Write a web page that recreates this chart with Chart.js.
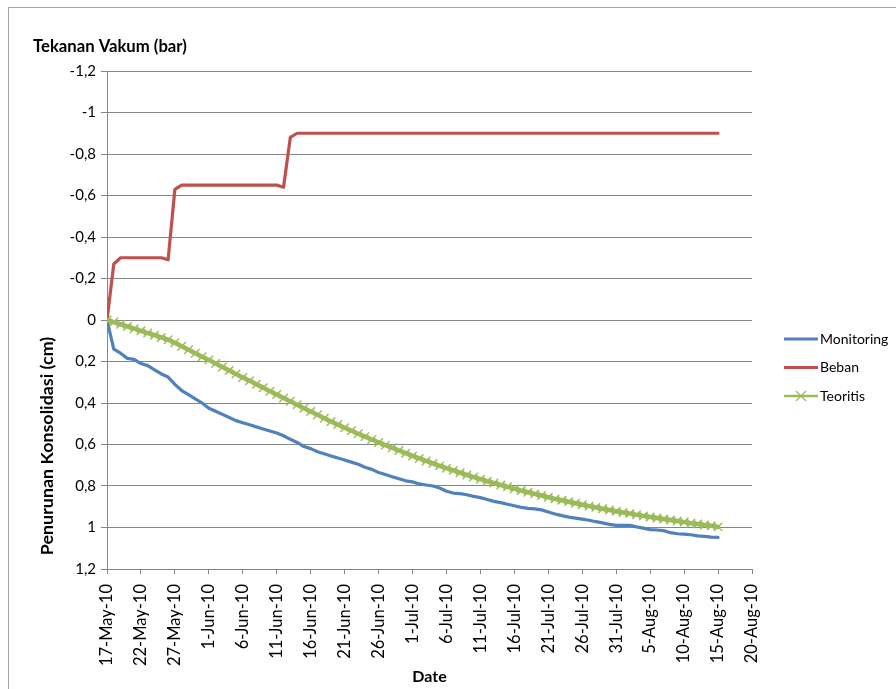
<!DOCTYPE html>
<html>
<head>
<meta charset="utf-8">
<title>Tekanan Vakum / Penurunan Konsolidasi</title>
<script src="https://cdn.jsdelivr.net/npm/chart.js@4.4.0/dist/chart.umd.min.js"></script>
<style>
  html, body { margin: 0; padding: 0; background: #fff; }
  #wrap { position: relative; width: 896px; height: 689px; overflow: hidden; }
  #frame { position: absolute; left: 8px; top: 7px; width: 950px; height: 750px;
           border-left: 1px solid #a6a6a6; border-top: 1px solid #a6a6a6; }
  #chart { position: absolute; left: 0; top: 0; }
</style>
</head>
<body>
<div id="wrap">
  <div id="frame"></div>
  <canvas id="chart" width="896" height="689"></canvas>
</div>
<script>
// --- Data (one value per day from 17-May-10) ---
const xTickLabels = [
  '17-May-10', '22-May-10', '27-May-10', '1-Jun-10', '6-Jun-10', '11-Jun-10',
  '16-Jun-10', '21-Jun-10', '26-Jun-10', '1-Jul-10', '6-Jul-10', '11-Jul-10',
  '16-Jul-10', '21-Jul-10', '26-Jul-10', '31-Jul-10', '5-Aug-10', '10-Aug-10',
  '15-Aug-10', '20-Aug-10'
];
// y labels from top (-1,2) to bottom (1,2)
const yTickLabels = ['-1,2', '-1', '-0,8', '-0,6', '-0,4', '-0,2', '0',
                     '0,2', '0,4', '0,6', '0,8', '1', '1,2'];

// day offsets since 17-May-10 (daily readings up to 15-Aug-10)
const days = Array.from({ length: 91 }, (_, i) => i);

const monitoring = [
  0.000, 0.140, 0.160, 0.185, 0.190, 0.210, 0.220, 0.240, 0.260, 0.275,
  0.310, 0.340, 0.360, 0.380, 0.400, 0.425, 0.440, 0.455, 0.470, 0.485,
  0.495, 0.505, 0.515, 0.525, 0.535, 0.545, 0.558, 0.575, 0.590, 0.610,
  0.620, 0.635, 0.645, 0.655, 0.665, 0.675, 0.685, 0.695, 0.710, 0.720,
  0.735, 0.745, 0.755, 0.765, 0.775, 0.780, 0.790, 0.795, 0.800, 0.810,
  0.825, 0.834, 0.837, 0.842, 0.850, 0.856, 0.865, 0.874, 0.880, 0.888,
  0.895, 0.903, 0.908, 0.910, 0.915, 0.925, 0.935, 0.943, 0.950, 0.955,
  0.960, 0.965, 0.972, 0.978, 0.985, 0.990, 0.990, 0.990, 0.997, 1.003,
  1.010, 1.012, 1.015, 1.025, 1.030, 1.032, 1.035, 1.040, 1.043, 1.046,
  1.048
];

const beban = [
  0.00, -0.27, -0.30, -0.30, -0.30, -0.30, -0.30, -0.30, -0.30, -0.29,
  -0.63, -0.65, -0.65, -0.65, -0.65, -0.65, -0.65, -0.65, -0.65, -0.65,
  -0.65, -0.65, -0.65, -0.65, -0.65, -0.65, -0.64, -0.88, -0.90, -0.90,
  -0.90, -0.90, -0.90, -0.90, -0.90, -0.90, -0.90, -0.90, -0.90, -0.90,
  -0.90, -0.90, -0.90, -0.90, -0.90, -0.90, -0.90, -0.90, -0.90, -0.90,
  -0.90, -0.90, -0.90, -0.90, -0.90, -0.90, -0.90, -0.90, -0.90, -0.90,
  -0.90, -0.90, -0.90, -0.90, -0.90, -0.90, -0.90, -0.90, -0.90, -0.90,
  -0.90, -0.90, -0.90, -0.90, -0.90, -0.90, -0.90, -0.90, -0.90, -0.90,
  -0.90, -0.90, -0.90, -0.90, -0.90, -0.90, -0.90, -0.90, -0.90, -0.90,
  -0.90
];

const teoritis = [
  0.000, 0.010, 0.021, 0.031, 0.042, 0.052, 0.063, 0.073, 0.084, 0.095,
  0.110, 0.127, 0.143, 0.160, 0.177, 0.193, 0.210, 0.227, 0.243, 0.260,
  0.277, 0.293, 0.310, 0.326, 0.343, 0.359, 0.376, 0.392, 0.408, 0.425,
  0.441, 0.457, 0.473, 0.489, 0.504, 0.519, 0.534, 0.548, 0.562, 0.576,
  0.590, 0.603, 0.616, 0.629, 0.642, 0.655, 0.667, 0.679, 0.691, 0.703,
  0.714, 0.725, 0.736, 0.747, 0.757, 0.767, 0.777, 0.786, 0.795, 0.804,
  0.813, 0.822, 0.830, 0.838, 0.846, 0.854, 0.862, 0.869, 0.876, 0.883,
  0.890, 0.897, 0.903, 0.910, 0.916, 0.922, 0.928, 0.933, 0.939, 0.944,
  0.949, 0.954, 0.959, 0.964, 0.969, 0.974, 0.979, 0.983, 0.988, 0.992,
  0.997
];

const FONT = 'Lato, "Open Sans", sans-serif';
const GRID = '#868686';
const BLUE = '#4F81BD', RED = '#C0504D', GREEN = '#9BBB59';

// pick a bold font size so the text spans about the same width as in the original
function fitFont(ctx, text, width, base) {
  ctx.font = 'bold ' + base + 'px ' + FONT;
  const s = base * width / ctx.measureText(text).width;
  return 'bold ' + s.toFixed(1) + 'px ' + FONT;
}

// Extra texts + legend, drawn the way the spreadsheet places them
const extrasPlugin = {
  id: 'extras',
  afterDraw(chart) {
    const ctx = chart.ctx;
    ctx.save();
    ctx.fillStyle = '#000';

    // top-left title of the upper (vacuum) half
    ctx.font = fitFont(ctx, 'Tekanan Vakum (bar)', 154, 14);
    ctx.textAlign = 'left';
    ctx.textBaseline = 'middle';
    ctx.fillText('Tekanan Vakum (bar)', 33, 47);

    // rotated title for the lower (settlement) half
    ctx.font = fitFont(ctx, 'Penurunan Konsolidasi (cm)', 218, 14);
    ctx.translate(47, 446);
    ctx.rotate(-Math.PI / 2);
    ctx.textAlign = 'center';
    ctx.fillText('Penurunan Konsolidasi (cm)', 0, 0);
    ctx.restore();

    // legend
    const items = [
      { label: 'Monitoring', color: BLUE, marker: false, width: 3 },
      { label: 'Beban', color: RED, marker: false, width: 3 },
      { label: 'Teoritis', color: GREEN, marker: true, width: 2.5 }
    ];
    ctx.save();
    ctx.font = '14px ' + FONT;
    ctx.textBaseline = 'middle';
    items.forEach((it, i) => {
      const y = 339 + i * 28.5;
      ctx.strokeStyle = it.color;
      ctx.lineWidth = it.width;
      ctx.beginPath();
      ctx.moveTo(784, y);
      ctx.lineTo(818, y);
      ctx.stroke();
      if (it.marker) {
        ctx.lineWidth = 1.3;
        ctx.beginPath();
        ctx.moveTo(796, y - 5); ctx.lineTo(806, y + 5);
        ctx.moveTo(796, y + 5); ctx.lineTo(806, y - 5);
        ctx.stroke();
      }
      ctx.fillStyle = '#000';
      ctx.fillText(it.label, 820, y);
    });
    ctx.restore();
  }
};

new Chart(document.getElementById('chart'), {
  type: 'line',
  data: {
    labels: days,
    datasets: [
      {
        label: 'Monitoring',
        data: monitoring,
        borderColor: BLUE,
        backgroundColor: BLUE,
        borderWidth: 3.2,
        pointRadius: 0,
        borderCapStyle: 'round',
        borderJoinStyle: 'round',
        order: 3
      },
      {
        label: 'Beban',
        data: beban,
        borderColor: RED,
        backgroundColor: RED,
        borderWidth: 3.2,
        pointRadius: 0,
        borderCapStyle: 'round',
        borderJoinStyle: 'round',
        order: 2
      },
      {
        label: 'Teoritis',
        data: teoritis,
        borderColor: GREEN,
        backgroundColor: GREEN,
        borderWidth: 4.5,
        pointStyle: 'crossRot',
        pointRadius: 6,
        pointBorderWidth: 1.4,
        pointBorderColor: GREEN,
        borderCapStyle: 'round',
        borderJoinStyle: 'round',
        order: 1
      }
    ]
  },
  options: {
    responsive: false,
    animation: false,
    layout: { padding: { left: 0, right: 144, top: 71, bottom: 1 } },
    plugins: {
      legend: { display: false },
      tooltip: { enabled: false }
    },
    scales: {
      x: {
        type: 'linear',
        min: 0,
        max: 95,
        ticks: {
          stepSize: 5,
          autoSkip: false,
          minRotation: 90,
          maxRotation: 90,
          padding: 10,
          color: '#000',
          font: { family: FONT, size: 16.5 },
          callback: (v, i) => xTickLabels[i]
        },
        grid: { drawOnChartArea: false, tickColor: GRID, tickLength: 5 },
        border: { color: GRID, width: 1 },
        title: {
          display: true,
          text: 'Date',
          color: '#000',
          font: { family: FONT, size: 16, weight: 'bold' },
          padding: { top: 2, bottom: 2 }
        },
        afterFit: s => { s.height = 119; }
      },
      y: {
        type: 'linear',
        reverse: true,
        min: -1.2,
        max: 1.2,
        ticks: {
          stepSize: 0.2,
          padding: 5,
          color: '#000',
          font: { family: FONT, size: 15 },
          callback: v => yTickLabels[Math.round((v + 1.2) / 0.2)]
        },
        grid: { color: GRID, tickColor: GRID, tickLength: 6 },
        border: { color: GRID, width: 1 },
        afterFit: s => { s.width = 107; }
      }
    }
  },
  plugins: [extrasPlugin]
});
</script>
</body>
</html>
